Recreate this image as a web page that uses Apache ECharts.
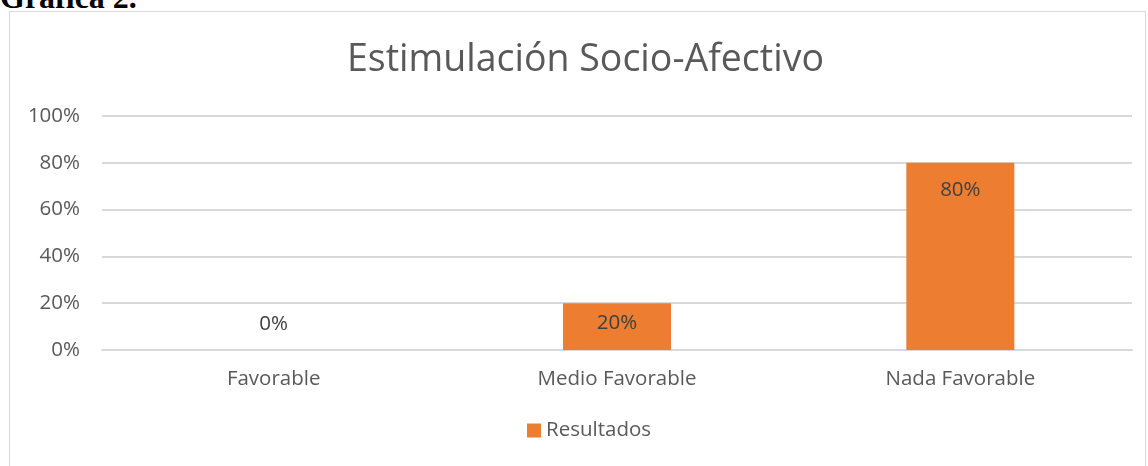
<!DOCTYPE html>
<html><head><meta charset="utf-8">
<script src="https://cdn.jsdelivr.net/npm/echarts@6/dist/echarts.min.js"></script>
<style>
html,body{margin:0;padding:0;background:#fff;overflow:hidden;}
#cap{position:absolute;left:0;top:-19px;font-family:"Liberation Serif","Times New Roman",serif;font-weight:bold;font-size:32px;line-height:32px;color:#000;}
#box{position:absolute;left:9px;top:11px;width:1137px;height:470px;border:1px solid #d9d9d9;box-sizing:border-box;}
#chart{position:absolute;left:0;top:0;width:1148px;height:466px;}
</style></head><body>
<div id="cap">Gráfica 2.</div>
<div id="box"></div>
<div id="chart"></div>
<script>
const title = 'Estimulación Socio-Afectivo';
const categories = ['Favorable', 'Medio Favorable', 'Nada Favorable'];
const seriesName = 'Resultados';
const values = [0, 20, 80];
const yTicks = [0, 20, 40, 60, 80, 100];

const FONT = '"Open Sans", sans-serif';
const FS = 20.5;
const chart = echarts.init(document.getElementById('chart'), null, {renderer: 'canvas'});
const labelCfg = v => {
  if (v === 0) return {position: 'top', distance: 15};
  if (v < 30) return {position: 'inside', offset: [0, -3]};
  return {position: 'insideTop', distance: 17};
};
chart.setOption({
  animation: false,
  title: {text: title, left: 342, top: 36,
    textStyle: {fontFamily: FONT, fontSize: 37.5, fontWeight: 'normal', color: '#595959'}},
  grid: {left: 102, right: 16, top: 116, bottom: 116},
  legend: {data: [seriesName], bottom: 20, left: 522, itemWidth: 14, itemHeight: 14, itemGap: 6,
    icon: 'rect', textStyle: {fontFamily: FONT, fontSize: FS, color: '#595959'}},
  xAxis: {type: 'category', data: categories,
    axisLine: {lineStyle: {color: '#d9d9d9', width: 2}}, axisTick: {show: false},
    axisLabel: {fontFamily: FONT, fontSize: FS, color: '#595959', margin: 19}},
  yAxis: {type: 'value', min: yTicks[0], max: yTicks[yTicks.length - 1], interval: 20,
    axisLine: {show: false}, axisTick: {show: false},
    splitLine: {lineStyle: {color: '#d9d9d9', width: 2}},
    axisLabel: {fontFamily: FONT, fontSize: FS, color: '#595959', margin: 22, formatter: '{value}%'}},
  series: [{
    name: seriesName, type: 'bar', barWidth: 108,
    itemStyle: {color: '#ED7D31'},
    data: values.map(v => ({value: v, label: Object.assign({show: true, formatter: '{c}%',
      fontFamily: FONT, fontSize: FS, color: '#404040'}, labelCfg(v))}))
  }]
});
</script>
</body></html>
